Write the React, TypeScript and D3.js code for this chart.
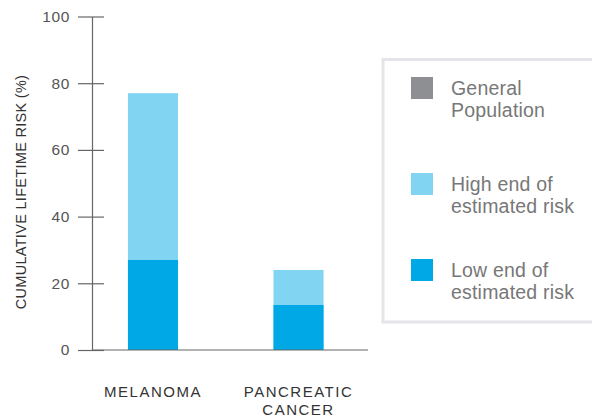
import React, { useEffect, useRef } from 'react';
import * as d3 from 'd3';

const categories = [['MELANOMA'], ['PANCREATIC', 'CANCER']];
const lowEnd = [27, 13.5];
const highEnd = [77, 24];
const yTicks = [0, 20, 40, 60, 80, 100];
const legendLabels = [
  ['General', 'Population'],
  ['High end of', 'estimated risk'],
  ['Low end of', 'estimated risk'],
];
const legendColors = ['#8e8f93', '#82d4f3', '#00a9e6'];

const FONT = 'Helvetica, Arial, "Liberation Sans", sans-serif';

const App: React.FC = () => {
  const svgRef = useRef<SVGSVGElement | null>(null);

  useEffect(() => {
    if (!svgRef.current) return;
    const svg = d3.select(svgRef.current);
    svg.selectAll('*').remove();

    const axisX = 92;
    const bottom = 350;
    const top = 16.5;

    const x = d3.scaleBand<number>()
      .domain(categories.map((_, i) => i))
      .range([axisX, 359.5])
      .paddingInner(0.656)
      .paddingOuter(0.247);

    const y = d3.scaleLinear().domain([0, 100]).range([bottom, top]);

    // bars: high end behind, low end in front
    svg.append('g').selectAll('rect')
      .data(highEnd)
      .enter()
      .append('rect')
      .attr('x', (_, i) => x(i) || 0)
      .attr('y', d => y(d))
      .attr('width', x.bandwidth())
      .attr('height', d => bottom - y(d))
      .attr('fill', legendColors[1]);

    svg.append('g').selectAll('rect')
      .data(lowEnd)
      .enter()
      .append('rect')
      .attr('x', (_, i) => x(i) || 0)
      .attr('y', d => y(d))
      .attr('width', x.bandwidth())
      .attr('height', d => bottom - y(d))
      .attr('fill', legendColors[2]);

    // y axis
    const yAxis = svg.append('g')
      .attr('transform', `translate(${axisX},0)`)
      .call(d3.axisLeft(y).tickValues(yTicks).tickSize(0).tickPadding(22));
    yAxis.select('.domain').attr('stroke', '#666').attr('stroke-width', 1.2);
    yAxis.selectAll('.tick text')
      .attr('fill', '#555')
      .attr('font-size', 15.5)
      .attr('letter-spacing', 0.6)
      .attr('font-family', FONT);
    yAxis.selectAll('.tick')
      .append('line')
      .attr('x1', -14)
      .attr('x2', 12)
      .attr('stroke', '#666')
      .attr('stroke-width', 1.2);

    // x axis baseline
    svg.append('line')
      .attr('x1', axisX)
      .attr('x2', 368)
      .attr('y1', bottom)
      .attr('y2', bottom)
      .attr('stroke', '#666')
      .attr('stroke-width', 1.2);

    // category labels
    categories.forEach((lines, i) => {
      const cx = (x(i) || 0) + x.bandwidth() / 2;
      const t = svg.append('text')
        .attr('x', cx)
        .attr('y', 396.5)
        .attr('text-anchor', 'middle')
        .attr('fill', '#333')
        .attr('font-size', 15)
        .attr('letter-spacing', 1.5)
        .attr('font-family', FONT);
      lines.forEach((l, j) => {
        t.append('tspan')
          .attr('x', cx)
          .attr('dy', j === 0 ? 0 : 18)
          .text(l);
      });
    });

    // y title
    svg.append('text')
      .attr('transform', `translate(25.5,192) rotate(-90)`)
      .attr('text-anchor', 'middle')
      .attr('fill', '#333')
      .attr('font-size', 14.5)
      .attr('letter-spacing', 0.3)
      .attr('font-family', FONT)
      .text('CUMULATIVE LIFETIME RISK (%)');

    // legend
    svg.append('rect')
      .attr('x', 383)
      .attr('y', 59.5)
      .attr('width', 230)
      .attr('height', 262.5)
      .attr('fill', 'none')
      .attr('stroke', '#e4e5e8')
      .attr('stroke-width', 3);

    const legendY = [77, 173, 259];
    legendLabels.forEach((lines, i) => {
      svg.append('rect')
        .attr('x', 411)
        .attr('y', legendY[i])
        .attr('width', 22)
        .attr('height', 22)
        .attr('fill', legendColors[i]);
      const t = svg.append('text')
        .attr('x', 451)
        .attr('y', legendY[i] + 17.5)
        .attr('fill', '#777')
        .attr('font-size', 19.5)
        .attr('letter-spacing', 0.2)
        .attr('font-family', FONT);
      lines.forEach((l, j) => {
        t.append('tspan')
          .attr('x', 451)
          .attr('dy', j === 0 ? 0 : 22)
          .text(l);
      });
    });
  }, []);

  return (
    <svg
      ref={svgRef}
      width={592}
      height={418}
      style={{ position: 'absolute', left: 0, top: 0, background: '#fff' }}
    ></svg>
  );
};

export default App;
